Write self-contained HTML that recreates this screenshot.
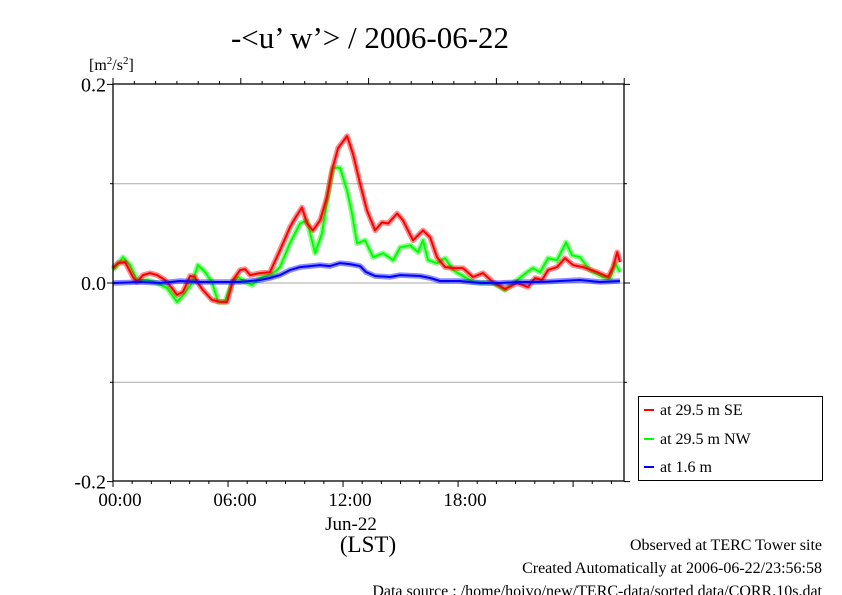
<!DOCTYPE html>
<html><head><meta charset="utf-8"><style>
body{margin:0;background:#fff;}
svg{display:block;font-family:"Liberation Serif",serif;}
</style></head><body>
<svg id="chart" width="842" height="595" viewBox="0 0 842 595" xmlns="http://www.w3.org/2000/svg">
<text x="370" y="48" font-size="31" text-anchor="middle">-&lt;u’ w’&gt; / 2006-06-22</text>
<text x="89" y="70" font-size="16">[m<tspan font-size="11" dy="-6">2</tspan><tspan dy="6">/s</tspan><tspan font-size="11" dy="-6">2</tspan><tspan dy="6">]</tspan></text>
<g id="grid"></g><g id="series"></g><g id="axes"></g>
<text x="351" y="530" font-size="19" text-anchor="middle">Jun-22</text>
<text x="368" y="552" font-size="23" text-anchor="middle">(LST)</text>
<g>
<rect x="638.5" y="396.5" width="184" height="84" fill="#fff" stroke="#000" stroke-width="1"/>
<g><line x1="644" y1="410" x2="654" y2="410" stroke="#f00" stroke-width="2"/><text x="660" y="415" font-size="16">at 29.5 m SE</text></g>
<g><line x1="644" y1="439" x2="654" y2="439" stroke="#0f0" stroke-width="2"/><text x="660" y="444" font-size="16">at 29.5 m NW</text></g>
<g><line x1="644" y1="467" x2="654" y2="467" stroke="#00f" stroke-width="2"/><text x="660" y="472" font-size="16">at 1.6 m</text></g>
</g>
<g font-size="16" text-anchor="end">
<text x="822" y="550">Observed at TERC Tower site</text>
<text x="822" y="573">Created Automatically at 2006-06-22/23:56:58</text>
<text x="822" y="596">Data source : /home/hoivo/new/TERC-data/sorted  data/CORR.10s.dat</text>
</g>
</svg>
<script>
const hoursSE=[0,0.26,0.63,1.04,1.25,1.56,1.93,2.30,2.71,3.08,3.34,3.65,4.02,4.28,4.43,4.69,5.16,5.58,5.95,6.26,6.63,6.89,7.15,7.67,8.19,8.71,9.23,9.49,9.86,10.12,10.43,10.80,11.16,11.42,11.74,12.21,12.52,12.89,13.25,13.67,14.03,14.35,14.82,15.13,15.65,16.17,16.54,16.90,17.32,17.74,18.26,18.78,19.30,19.82,20.45,21.08,21.65,22.02,22.38,22.69,23.16,23.58,24.00,24.52,25.25,25.83,26.09,26.30,26.45];
const valuesSE=[.015,.020,.021,.006,.001,.008,.010,.008,.003,-.005,-.012,-.009,.007,.006,.000,-.007,-.017,-.019,-.019,.003,.013,.014,.008,.010,.011,.033,.056,.065,.076,.060,.053,.063,.086,.113,.136,.148,.130,.100,.073,.053,.061,.060,.070,.063,.043,.053,.046,.026,.016,.015,.015,.006,.010,.001,-.006,.000,-.004,.005,.003,.013,.016,.025,.018,.016,.011,.006,.016,.031,.021];
const hoursNW=[0,0.52,0.89,1.25,1.77,2.30,2.82,3.34,3.76,4.12,4.43,4.80,5.16,5.48,5.84,6.21,6.52,6.89,7.25,7.67,8.35,8.71,9.23,9.76,10.12,10.54,10.90,11.22,11.48,11.84,12.21,12.47,12.73,13.15,13.57,14.09,14.61,14.98,15.50,15.91,16.17,16.43,16.90,17.32,17.74,18.78,19.82,20.45,21.08,21.60,21.91,22.28,22.69,23.16,23.63,23.94,24.36,24.88,25.56,25.93,26.19,26.45];
const valuesNW=[.013,.026,.018,.003,.003,.000,-.005,-.019,-.010,.000,.018,.011,.001,-.019,-.019,.000,.006,.001,-.002,.005,.010,.016,.040,.060,.063,.030,.050,.090,.116,.116,.093,.070,.040,.043,.026,.030,.023,.036,.038,.031,.043,.023,.020,.025,.013,.001,.000,-.007,.003,.011,.015,.011,.025,.023,.041,.028,.026,.013,.006,.005,.020,.011];
const hoursLow=[0,1.41,2.45,3.50,4.54,5.58,6.63,7.67,8.19,8.71,9.23,9.76,10.28,10.80,11.32,11.84,12.36,12.89,13.20,13.67,14.45,14.98,16.02,16.54,17.06,18.10,19.15,20.19,21.23,22.28,23.32,24.36,25.41,26.45];
const valuesLow=[.000,.001,.000,.002,.001,.001,.001,.003,.005,.008,.013,.016,.017,.018,.017,.020,.019,.017,.011,.007,.006,.008,.007,.005,.002,.002,.000,.000,.001,.001,.002,.003,.001,.002];
const xTickLabels=["00:00","06:00","12:00","18:00"];
const yTickLabels=["0.2","0.0","-0.2"];
const yTickValues=[0.2,0.0,-0.2];

const L=113,R=624,T=84,B=481;
const xs=h=>L+h*19.17;
const ys=v=>283-v*993;
const NS="http://www.w3.org/2000/svg";
function mk(tag,attrs,parent){const e=document.createElementNS(NS,tag);for(const k in attrs)e.setAttribute(k,attrs[k]);parent.appendChild(e);return e;}
const grid=document.getElementById('grid'),axes=document.getElementById('axes'),ser=document.getElementById('series');
[0.1,0,-0.1].forEach(v=>{const g=mk('line',{x1:L,x2:R,y1:ys(v),y2:ys(v),stroke:'#aaa','stroke-width':1},grid);

});
const box=mk('rect',{x:L,y:T,width:R-L,height:B-T,fill:'none',stroke:'#000','stroke-width':1.3},axes);


for(let i=0;i*19.17<=R-L+0.5;i++){const x=xs(i),len=i%6==0?6:3;
const t=mk('line',{x1:x,x2:x,y1:B,y2:B+len,stroke:'#000'},axes);

}
for(let i=0;i*21.3<=R-L+0.5;i++){const x=L+i*21.3,len=i%6==0?6:3;
const t=mk('line',{x1:x,x2:x,y1:T,y2:T-len,stroke:'#000'},axes);

}
[0.2,0.1,0,-0.1,-0.2].forEach((v,i)=>{const len=i%2==0?6:3;
const t1=mk('line',{x1:L-len,x2:L,y1:ys(v),y2:ys(v),stroke:'#000'},axes);


const t2=mk('line',{x1:R,x2:R+len,y1:ys(v),y2:ys(v),stroke:'#000'},axes);

});
xTickLabels.forEach((s,i)=>{const t=mk('text',{x:xs(i*6)+7,y:506,'font-size':19,'text-anchor':'middle'},axes);t.textContent=s;

});
yTickLabels.forEach((s,i)=>{const t=mk('text',{x:106,y:ys(yTickValues[i])+7,'font-size':20,'text-anchor':'end'},axes);t.textContent=s;

});
function draw(hs,vs,col,name){const d=hs.map((h,i)=>(i?'L':'M')+xs(h).toFixed(1)+','+ys(vs[i]).toFixed(1)).join('');
const g=mk('g',{},ser);


mk('path',{d:d,fill:'none',stroke:col,'stroke-width':5.5,'stroke-opacity':0.45,'stroke-linejoin':'round'},g);
mk('path',{d:d,fill:'none',stroke:col,'stroke-width':2,'stroke-linejoin':'round'},g);}
draw(hoursNW,valuesNW,'#00ff00','series-29m-nw');
draw(hoursSE,valuesSE,'#ff0000','series-29m-se');
draw(hoursLow,valuesLow,'#0000ff','series-1-6m');
</script>
</body></html>
